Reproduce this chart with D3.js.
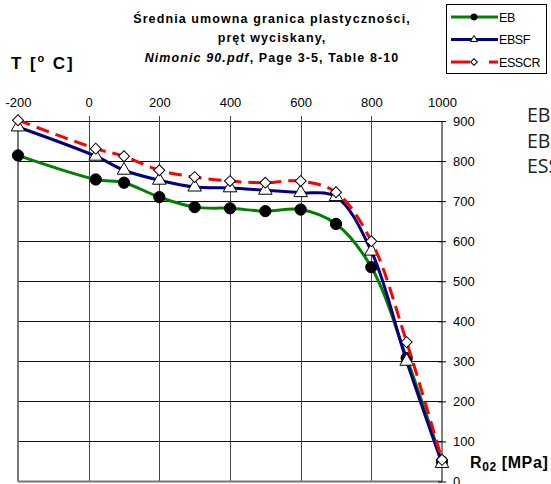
<!DOCTYPE html>
<html>
<head>
<meta charset="utf-8">
<script src="https://cdn.jsdelivr.net/npm/d3@7.9.0/dist/d3.min.js"></script>
<style>
  body { margin: 0; background: #fff; }
  svg { display: block; font-family: "Liberation Sans", Arial, sans-serif; }
</style>
</head>
<body>
<div id="chart"></div>
<script>
// temperatures (deg C) and yield strength R02 (MPa)
const temps = [-200, 20, 100, 200, 300, 400, 500, 600, 700, 800, 900, 1000];
const eb = [814, 754, 746, 710, 685, 682, 675, 679, 643, 535, 308, 50];
const ebsf = [885, 812, 777, 752, 735, 733, 727, 721, 711, 575, 300, 45];
const esscr = [902, 831, 812, 777, 760, 750, 746, 750, 722, 600, 348, 54];

const xTicks = [-200, 0, 200, 400, 600, 800, 1000];
const yTicks = [0, 100, 200, 300, 400, 500, 600, 700, 800, 900];
const seriesNames = ['EB', 'EBSF', 'ESSCR'];

const titleLines = ['Średnia umowna granica plastyczności,', 'pręt wyciskany,'];

const width = 551;
const height = 484;

const svg = d3.select('#chart')
  .append('svg')
  .attr('width', width)
  .attr('height', height);

const x = d3.scaleLinear().domain([-200, 1000]).range([18, 442]);
const y = d3.scaleLinear().domain([0, 900]).range([481.5, 121]);

// gridlines
const grid = svg.append('g').attr('class', 'grid');
grid.selectAll('line.h')
  .data(yTicks.slice(1))
  .join('line')
  .attr('class', 'h')
  .attr('x1', x(-200)).attr('x2', x(1000))
  .attr('y1', d => Math.round(y(d)) + 0.5).attr('y2', d => Math.round(y(d)) + 0.5)
  .attr('stroke', '#111');
grid.selectAll('line.v')
  .data(xTicks.slice(1, -1))
  .join('line')
  .attr('class', 'v')
  .attr('x1', d => Math.round(x(d)) + 0.5).attr('x2', d => Math.round(x(d)) + 0.5)
  .attr('y1', y(900) - 5).attr('y2', y(0))
  .attr('stroke', '#444');

// left + bottom border (grey)
svg.append('line')
  .attr('x1', x(-200)).attr('x2', x(-200))
  .attr('y1', y(900) - 5).attr('y2', y(0))
  .attr('stroke', '#777').attr('stroke-width', 2);
svg.append('line')
  .attr('x1', x(-200)).attr('x2', x(1000))
  .attr('y1', y(0)).attr('y2', y(0))
  .attr('stroke', '#777').attr('stroke-width', 2);

// top axis (temperature)
const xAxis = d3.axisTop(x).tickValues(xTicks).tickSize(0).tickPadding(14).tickFormat(d => String(d));
svg.append('g')
  .attr('transform', `translate(0, ${y(900)})`)
  .call(xAxis)
  .call(g => g.select('.domain').remove())
  .call(g => g.selectAll('text').attr('font-size', 13).attr('fill', '#000').attr('font-family', 'Liberation Sans'));

// right axis (R02)
const yAxis = d3.axisRight(y).tickValues(yTicks).tickSize(4).tickPadding(7).tickFormat(d => String(d));
svg.append('g')
  .attr('transform', `translate(${x(1000)}, 0)`)
  .call(yAxis)
  .call(g => g.select('.domain').attr('stroke', '#000').attr('d', `M0,${y(900)}V${y(0)}`))
  .call(g => g.selectAll('.tick line').attr('x1', -4).attr('stroke', '#000'))
  .call(g => g.selectAll('text').attr('font-size', 13).attr('fill', '#000').attr('font-family', 'Liberation Sans'));

// series
const series = [
  { name: 'EB', values: eb, color: '#008000', dash: null, marker: 'circle' },
  { name: 'EBSF', values: ebsf, color: '#000080', dash: null, marker: 'triangle' },
  { name: 'ESSCR', values: esscr, color: '#ff0000', dash: '13,7', marker: 'diamond' }
];

const line = d3.line()
  .x(d => x(d[0]))
  .y(d => y(d[1]))
  .curve(d3.curveCatmullRom.alpha(0.5));

function drawMarker(g, kind, size) {
  const s = d3.symbol().size(size);
  if (kind === 'circle') {
    g.append('path').attr('d', s.type(d3.symbolCircle)()).attr('fill', '#000').attr('stroke', '#000');
  } else if (kind === 'triangle') {
    g.append('path').attr('d', s.type(d3.symbolTriangle)()).attr('fill', '#fff').attr('stroke', '#000').attr('stroke-width', 1);
  } else {
    g.append('path').attr('d', s.type(d3.symbolSquare)()).attr('transform', 'rotate(45)')
      .attr('fill', '#fff').attr('stroke', '#000').attr('stroke-width', 1);
  }
}

series.forEach(s => {
  const pts = temps.map((t, i) => [t, s.values[i]]);
  const g = svg.append('g').attr('class', 'series');
  g.append('path')
    .datum(pts)
    .attr('d', line)
    .attr('fill', 'none')
    .attr('stroke', s.color)
    .attr('stroke-width', 3)
    .attr('stroke-dasharray', s.dash);
  pts.forEach(p => {
    const m = g.append('g').attr('transform', `translate(${x(p[0])}, ${y(p[1])})`);
    const size = s.marker === 'circle' ? 100 : (s.marker === 'triangle' ? 80 : 60);
    drawMarker(m, s.marker, size);
  });
});

// title
const title = svg.append('text')
  .attr('text-anchor', 'middle')
  .attr('font-weight', 'bold')
  .attr('font-size', 12.5)
  .attr('letter-spacing', 1.1);
title.append('tspan').attr('x', 272).attr('y', 23).text(titleLines[0]);
title.append('tspan').attr('x', 272).attr('y', 42).text(titleLines[1]);
const t3 = title.append('tspan').attr('x', 272).attr('y', 62);
t3.append('tspan').attr('font-style', 'italic').text('Nimonic 90.pdf');
t3.append('tspan').text(', Page 3-5, Table 8-10');

// axis titles
const tLabel = svg.append('text').attr('x', 11).attr('y', 69)
  .attr('font-weight', 'bold').attr('font-size', 17).attr('letter-spacing', 1.9);
tLabel.append('tspan').text('T [');
tLabel.append('tspan').attr('font-size', 11).attr('dy', -7).text('o');
tLabel.append('tspan').attr('dy', 7).text(' C]');

const rLabel = svg.append('text').attr('x', 470).attr('y', 468)
  .attr('font-weight', 'bold').attr('font-size', 16).attr('letter-spacing', 0.6);
rLabel.append('tspan').text('R');
rLabel.append('tspan').attr('font-size', 12).attr('dy', 3).text('02');
rLabel.append('tspan').attr('dy', -3).text(' [MPa]');

// legend
const legend = svg.append('g').attr('class', 'legend');
legend.append('rect')
  .attr('x', 446.5).attr('y', 4.5).attr('width', 100).attr('height', 69)
  .attr('fill', '#fff').attr('stroke', '#000');
const legendY = d3.scalePoint().domain(seriesNames).range([17, 62]);
series.forEach(s => {
  const ly = legendY(s.name);
  legend.append('line')
    .attr('x1', 451).attr('x2', 498).attr('y1', ly).attr('y2', ly)
    .attr('stroke', s.color).attr('stroke-width', 3)
    .attr('stroke-dasharray', s.dash ? '19,19,10' : null);
  const m = legend.append('g').attr('transform', `translate(474, ${ly})`);
  drawMarker(m, s.marker, s.marker === 'circle' ? 30 : 22);
  legend.append('text')
    .attr('x', 499).attr('y', ly + 4.5)
    .attr('font-size', 12.5).attr('letter-spacing', -0.4)
    .text(s.name);
});

// labels on the right, cut by the edge as in the original
svg.append('g')
  .selectAll('text')
  .data(seriesNames)
  .join('text')
  .attr('x', 527)
  .attr('y', (d, i) => 122 + i * 25.5)
  .attr('font-family', 'Open Sans')
  .attr('font-size', 19.5)
  .attr('fill', '#222')
  .text(d => d);
</script>
</body>
</html>
